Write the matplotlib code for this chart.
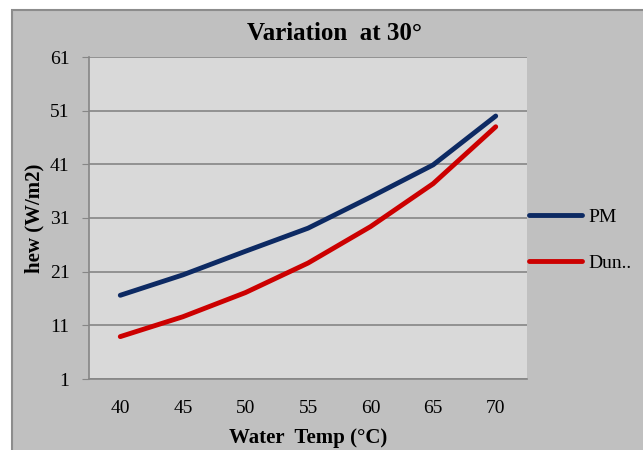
import matplotlib
matplotlib.use("Agg")
import matplotlib.pyplot as plt
from matplotlib.patches import Rectangle

temps = [40, 45, 50, 55, 60, 65, 70]
pm = [16.6, 20.4, 24.8, 29.1, 34.9, 40.9, 50.0]
dun = [8.9, 12.6, 17.1, 22.6, 29.4, 37.4, 48.0]
yticks = [1, 11, 21, 31, 41, 51, 61]

plt.rcParams['font.family'] = ['Liberation Serif', 'DejaVu Serif']

W, H = 643, 450
fig = plt.figure(figsize=(W/100, H/100), dpi=100)
fig.patch.set_facecolor('white')
fig.patches.append(Rectangle((12/W, -0.1), 1, 1.1 - 10/H, transform=fig.transFigure,
                             facecolor='#c0c0c0', edgecolor='#8c8c8c', linewidth=1.5, zorder=-5))

ax = fig.add_axes([89/W, 1 - 379/H, (527-89)/W, (379-57)/H])
ax.set_facecolor('#d9d9d9')
x = list(range(len(temps)))
ax.plot(x, pm, color='#0d2a63', linewidth=3.5, solid_capstyle='round', label='PM', zorder=3)
ax.plot(x, dun, color='#cc0000', linewidth=3.5, solid_capstyle='round', label='Dun..', zorder=3)
ax.set_xlim(-0.5, len(temps) - 0.5)
ax.set_ylim(1, 61)
ax.set_yticks(yticks)
ax.set_yticklabels([str(v) for v in yticks], fontsize=14)
ax.set_xticks(x)
ax.set_xticklabels([str(t) for t in temps], fontsize=14)
ax.tick_params(axis='x', length=0, pad=15)
ax.tick_params(axis='y', length=5, color='#868686', pad=9)
ax.yaxis.grid(True, color='#868686', linewidth=1.2)
ax.set_axisbelow(True)
for s in ['top', 'right']:
    ax.spines[s].set_visible(False)
for s in ['left', 'bottom']:
    ax.spines[s].set_color('#868686')
    ax.spines[s].set_linewidth(1.2)

ax.set_xlabel('Water  Temp (°C)', fontsize=15, fontweight='bold', labelpad=8)
ax.set_ylabel('hew (W/m2)', fontsize=15, fontweight='bold', labelpad=4)
fig.text(0.52, 1 - 33/H, 'Variation  at 30°', fontsize=18, fontweight='bold',
         ha='center', va='center')

leg = fig.legend(loc='center left', bbox_to_anchor=(529/W, 1 - 240/H), frameon=False,
                 fontsize=14, handlelength=2.7, labelspacing=1.45, handletextpad=0.35,
                 borderpad=0, borderaxespad=0)

fig.savefig('out.png', dpi=100)
